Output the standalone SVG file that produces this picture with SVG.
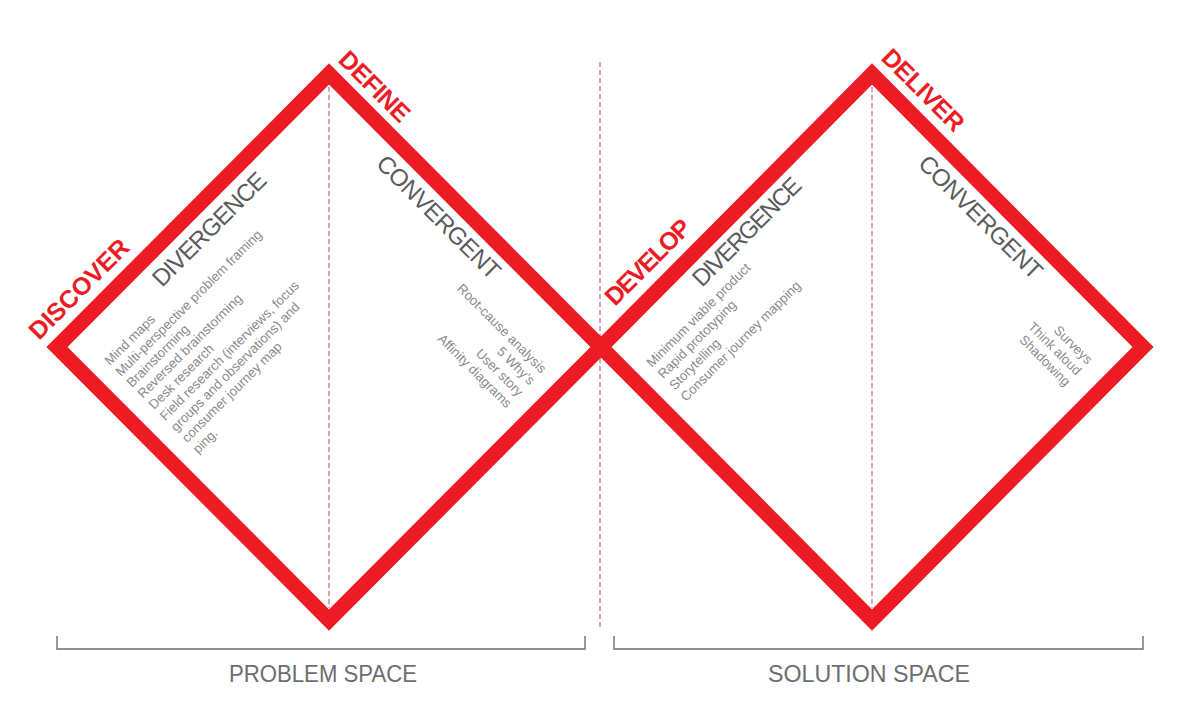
<svg xmlns="http://www.w3.org/2000/svg" width="1200" height="727" viewBox="0 0 1200 727">
<style>
.frame{fill:none;stroke:#ED1C24;stroke-width:15;stroke-linejoin:miter;stroke-miterlimit:10}
.dash{stroke:#D9707A;stroke-width:1.3;stroke-dasharray:5 3;fill:none}
.phase{font-family:"Liberation Sans",Arial,sans-serif;font-weight:bold;font-size:25px;fill:#ED1C24}
.head{font-family:"Liberation Sans",Arial,sans-serif;font-size:24px;fill:#5A5B5D}
.item{font-family:"Liberation Sans",Arial,sans-serif;font-size:13.3px;fill:#8A8A8C}
.space{font-family:"Liberation Sans",Arial,sans-serif;font-size:24px;fill:#6D6E70;text-anchor:middle}
.bracket{fill:none;stroke:#6D6E70;stroke-width:1.4}
</style>
<rect width="1200" height="727" fill="#ffffff"/>

<g id="dividers">
<line class="dash" x1="600" y1="62" x2="600" y2="628"/>
<line class="dash" x1="329" y1="87" x2="329" y2="608"/>
<line class="dash" x1="872" y1="87" x2="872" y2="608"/>
</g>

<g id="diamond-problem">
<polygon class="frame" points="57,347 329,74 601,347 329,620"/>
</g>
<g id="diamond-solution">
<polygon class="frame" points="601,347 872,74 1143,347 872,620"/>
</g>

<g id="discover">
<text class="phase" transform="translate(39,341) rotate(-45)" textLength="130">DISCOVER</text>
<text class="head" transform="translate(162,288) rotate(-45)" textLength="150">DIVERGENCE</text>
<g class="item" transform="translate(110,366) rotate(-45)">
<text x="0" y="0">Mind maps</text>
<text x="0" y="15.6">Multi-perspective problem framing</text>
<text x="0" y="31.2">Brainstorming</text>
<text x="0" y="46.8">Reversed brainstorming</text>
<text x="0" y="62.4">Desk research</text>
<text x="0" y="78">Field research (interviews, focus</text>
<text x="0" y="93.6">groups and observations) and</text>
<text x="0" y="109.2">consumer journey map</text>
<text x="0" y="124.8">ping.</text>
</g>
</g>

<g id="define">
<text class="phase" transform="translate(337,61) rotate(45)" textLength="89">DEFINE</text>
<text class="head" transform="translate(375,165) rotate(45)" textLength="164">CONVERGENT</text>
<g class="item" transform="translate(541,374) rotate(45)" text-anchor="end">
<text x="0" y="0">Root-cause analysis</text>
<text x="0" y="16.4">5 Why’s</text>
<text x="0" y="32.8">User story</text>
<text x="0" y="49.2">Affinity diagrams</text>
</g>
</g>

<g id="develop">
<text class="phase" transform="translate(615,307) rotate(-45)" textLength="110">DEVELOP</text>
<text class="head" transform="translate(702,288) rotate(-45)" textLength="143">DIVERGENCE</text>
<g class="item" transform="translate(652,368) rotate(-45)">
<text x="0" y="0">Minimum viable product</text>
<text x="0" y="16">Rapid prototyping</text>
<text x="0" y="32">Storytelling</text>
<text x="0" y="48">Consumer journey mapping</text>
</g>
</g>

<g id="deliver">
<text class="phase" transform="translate(880,59) rotate(45)" textLength="105">DELIVER</text>
<text class="head" transform="translate(917,165) rotate(45)" textLength="164">CONVERGENT</text>
<g class="item" transform="translate(1087,365) rotate(45)" text-anchor="end">
<text x="0" y="0">Surveys</text>
<text x="0" y="15.6">Think aloud</text>
<text x="0" y="31.2">Shadowing</text>
</g>
</g>

<g id="problem-space">
<path class="bracket" d="M57,636 V649 H585 V636"/>
<text class="space" x="323" y="682" textLength="188" lengthAdjust="spacingAndGlyphs">PROBLEM SPACE</text>
</g>
<g id="solution-space">
<path class="bracket" d="M614,636 V649 H1143 V636"/>
<text class="space" x="869" y="682" textLength="202" lengthAdjust="spacingAndGlyphs">SOLUTION SPACE</text>
</g>
</svg>
